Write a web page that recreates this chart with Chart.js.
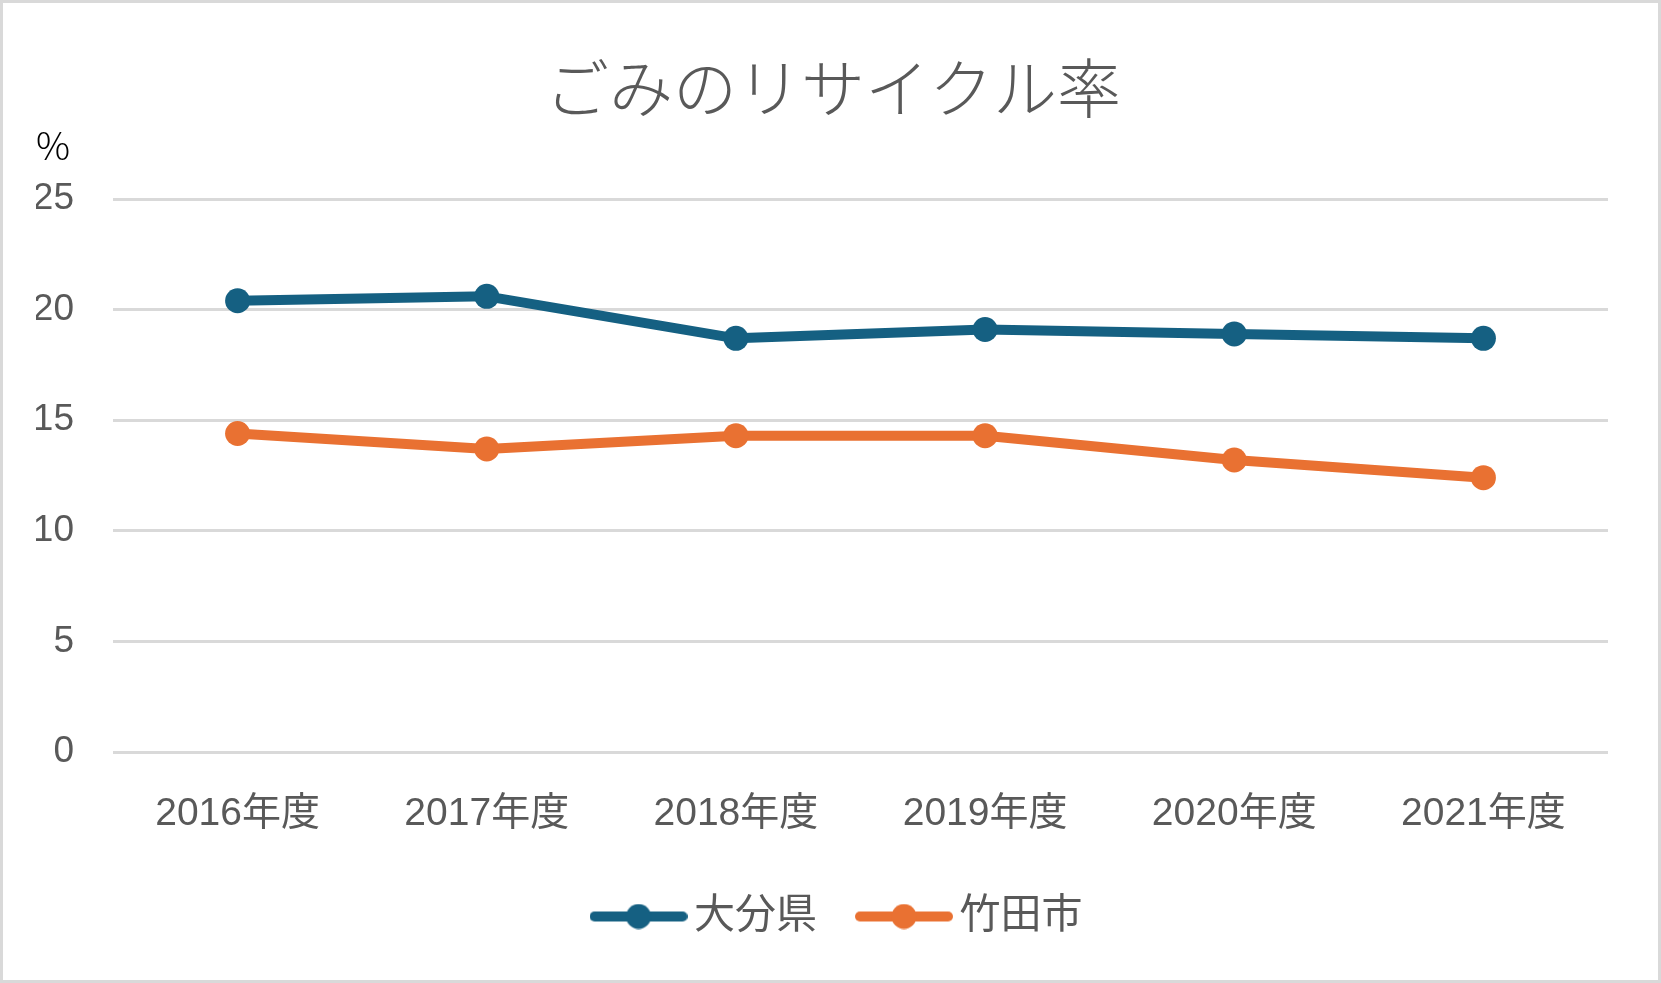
<!DOCTYPE html>
<html>
<head>
<meta charset="utf-8">
<script src="https://cdn.jsdelivr.net/npm/chart.js"></script>
<style>
  html, body { margin: 0; padding: 0; background: #fff; }
  #wrap { width: 1661px; height: 983px; box-sizing: border-box; border: 3px solid #d9d9d9; position: relative; }
</style>
</head>
<body>
<div id="wrap"><canvas id="myChart"></canvas></div>
<script>
const years = ["2016年度", "2017年度", "2018年度", "2019年度", "2020年度", "2021年度"];
const oitaPref = [20.4, 20.6, 18.7, 19.1, 18.9, 18.7];
const taketaCity = [14.4, 13.7, 14.3, 14.3, 13.2, 12.4];
const yTicks = [0, 5, 10, 15, 20, 25];

const blue = "#156082";
const orange = "#E97132";
const textGray = "#595959";
const fontFamily = "'Liberation Sans', 'Noto Sans CJK JP', sans-serif";

// legend symbol: short line with a dot in the middle
function legendIcon(color) {
  const c = document.createElement("canvas");
  c.width = 98;
  c.height = 26;
  const ctx = c.getContext("2d");
  ctx.strokeStyle = color;
  ctx.lineWidth = 10;
  ctx.lineCap = "round";
  ctx.beginPath();
  ctx.moveTo(5, 13);
  ctx.lineTo(93, 13);
  ctx.stroke();
  ctx.fillStyle = color;
  ctx.beginPath();
  ctx.arc(49, 13, 12.5, 0, Math.PI * 2);
  ctx.fill();
  return c;
}

// nudge title and legend to sit where the original puts them
const nudgeBoxes = {
  id: "nudgeBoxes",
  afterLayout(chart) {
    if (chart.titleBlock) {
      chart.titleBlock.left += 11;
      chart.titleBlock.right += 11;
    }
    if (chart.legend) {
      chart.legend.left += 21;
      chart.legend.right += 21;
    }
  },
};

new Chart("myChart", {
  type: "line",
  data: {
    labels: years,
    datasets: [
      {
        label: "大分県",
        data: oitaPref,
        borderColor: blue,
        backgroundColor: blue,
        borderWidth: 10,
        pointRadius: 12.5,
        pointHoverRadius: 12.5,
        pointBorderWidth: 0,
        pointStyle: "circle",
        fill: false,
      },
      {
        label: "竹田市",
        data: taketaCity,
        borderColor: orange,
        backgroundColor: orange,
        borderWidth: 10,
        pointRadius: 12.5,
        pointHoverRadius: 12.5,
        pointBorderWidth: 0,
        pointStyle: "circle",
        fill: false,
      },
    ],
  },
  options: {
    responsive: true,
    maintainAspectRatio: false,
    animation: false,
    elements: {
      line: { borderJoinStyle: "round", borderCapStyle: "round" },
    },
    layout: { padding: { left: 33, right: 50, top: 0, bottom: 33 } },
    plugins: {
      title: {
        display: true,
        text: "ごみのリサイクル率",
        color: textGray,
        font: { family: "'Noto Sans CJK JP', sans-serif", size: 64, weight: 300, lineHeight: 1.1 },
        padding: { top: 49, bottom: 0 },
      },
      subtitle: {
        display: true,
        text: "%",
        align: "start",
        color: "#000",
        font: { family: "'Noto Sans CJK JP', sans-serif", size: 38, weight: 300 },
        padding: { top: 0, bottom: 31 },
      },
      legend: {
        position: "bottom",
        labels: {
          usePointStyle: true,
          pointStyleWidth: 70,
          color: textGray,
          font: { family: fontFamily, size: 41 },
          padding: 52,
          generateLabels: (chart) =>
            chart.data.datasets.map((ds, i) => ({
              text: ds.label,
              pointStyle: legendIcon(ds.borderColor),
              fontColor: textGray,
              lineWidth: 0,
              strokeStyle: "transparent",
              fillStyle: ds.borderColor,
              datasetIndex: i,
              hidden: false,
            })),
        },
      },
      tooltip: { enabled: false },
    },
    scales: {
      x: {
        offset: true,
        grid: { display: false, drawTicks: false },
        border: { display: false },
        ticks: {
          color: textGray,
          font: { family: fontFamily, size: 39 },
          padding: 39,
          maxRotation: 0,
        },
        afterFit: (scale) => {
          scale.height = 92;
        },
      },
      y: {
        min: yTicks[0],
        max: yTicks[yTicks.length - 1],
        grid: { color: "#d9d9d9", lineWidth: 3, drawTicks: false },
        border: { display: false },
        ticks: {
          stepSize: yTicks[1] - yTicks[0],
          color: textGray,
          font: { family: fontFamily, size: 37 },
          padding: 39,
        },
        afterFit: (scale) => {
          scale.width = 77;
        },
      },
    },
  },
  plugins: [nudgeBoxes],
});
</script>
</body>
</html>
